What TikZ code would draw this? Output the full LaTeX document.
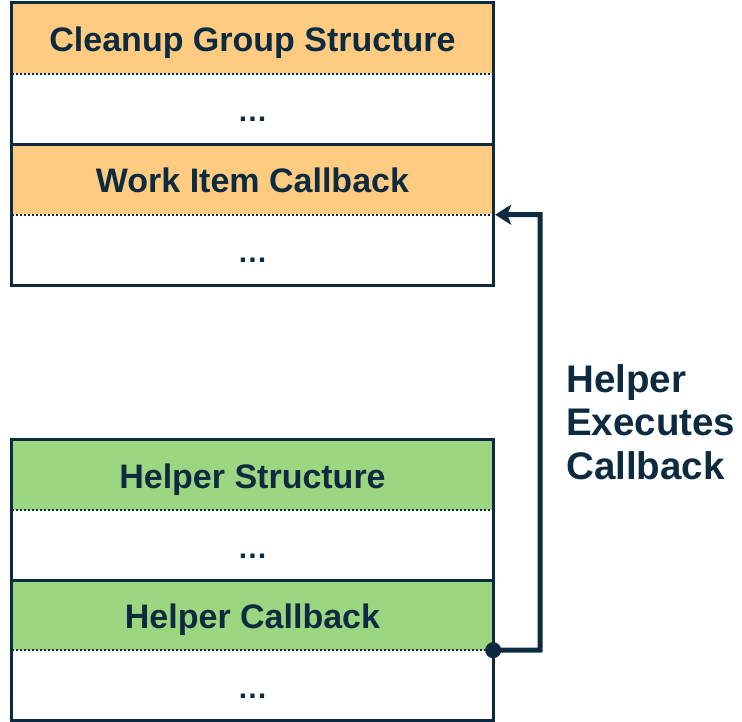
\documentclass[tikz,border=0pt]{standalone}
\usepackage{fontspec}
\setmainfont{Liberation Sans}
\usetikzlibrary{arrows.meta}

\definecolor{navy}{HTML}{0D2B40}
\definecolor{cleanupfill}{HTML}{FFCB80}
\definecolor{helperfill}{HTML}{9DD680}

\tikzset{
  row/.style={minimum width=481pt, minimum height=70.5pt, inner sep=0pt,
    text height=26pt, text depth=0pt, text=navy,
    font=\fontsize{34}{40}\selectfont\bfseries},
  lowrow/.style={row, minimum height=70pt},
  dotsrow/.style={font=\fontsize{30}{36}\selectfont\bfseries},
  frame/.style={draw=navy, line width=3pt},
  dotline/.style={draw=navy, line width=2pt, dash pattern=on 2pt off 2pt},
  conn/.style={draw=navy, line width=5pt,
    -{Stealth[length=16pt, width=20pt, inset=4pt]}, shorten >=2pt},
  callout/.style={text=navy, align=left, inner sep=0pt,
    font=\fontsize{38.5}{43.5}\selectfont\bfseries}
}

\begin{document}
\begin{tikzpicture}[x=1pt, y=-1pt]
  \useasboundingbox (0,0) rectangle (742,722);

  % Cleanup group structure block
  \node[row, fill=cleanupfill] (cg)  at (252.5, 38.25)  {Cleanup Group Structure};
  \node[row, dotsrow]           (cgd) at (252.5, 108.75) {…};
  \node[row, fill=cleanupfill] (wi)  at (252.5, 179.25) {Work Item Callback};
  \node[row, dotsrow]           (wid) at (252.5, 249.75) {…};

  \draw[dotline] (cg.south west) -- (cg.south east);
  \draw[dotline] (wi.south west) -- (wi.south east);
  \draw[frame] (cgd.south west) -- (cgd.south east);
  \draw[frame] (cg.north west) rectangle (wid.south east);

  % Helper structure block
  \node[lowrow, fill=helperfill] (hs)  at (252.5, 475) {Helper Structure};
  \node[lowrow, dotsrow]          (hsd) at (252.5, 545) {…};
  \node[lowrow, fill=helperfill] (hc)  at (252.5, 615) {Helper Callback};
  \node[lowrow, dotsrow]          (hcd) at (252.5, 685) {…};

  \draw[dotline] (hs.south west) -- (hs.south east);
  \draw[dotline] (hc.south west) -- (hc.south east);
  \draw[frame] (hsd.south west) -- (hsd.south east);
  \draw[frame] (hs.north west) rectangle (hcd.south east);

  % Callback execution path
  \coordinate (turn) at (540, 650);
  \draw[conn] (hc.south east) -- (turn) |- (wi.south east);
  \fill[navy] (hc.south east) circle (8pt);

  \node[callout, anchor=west] (lbl) at (566, 422) {Helper\\Executes\\Callback};
\end{tikzpicture}
\end{document}
